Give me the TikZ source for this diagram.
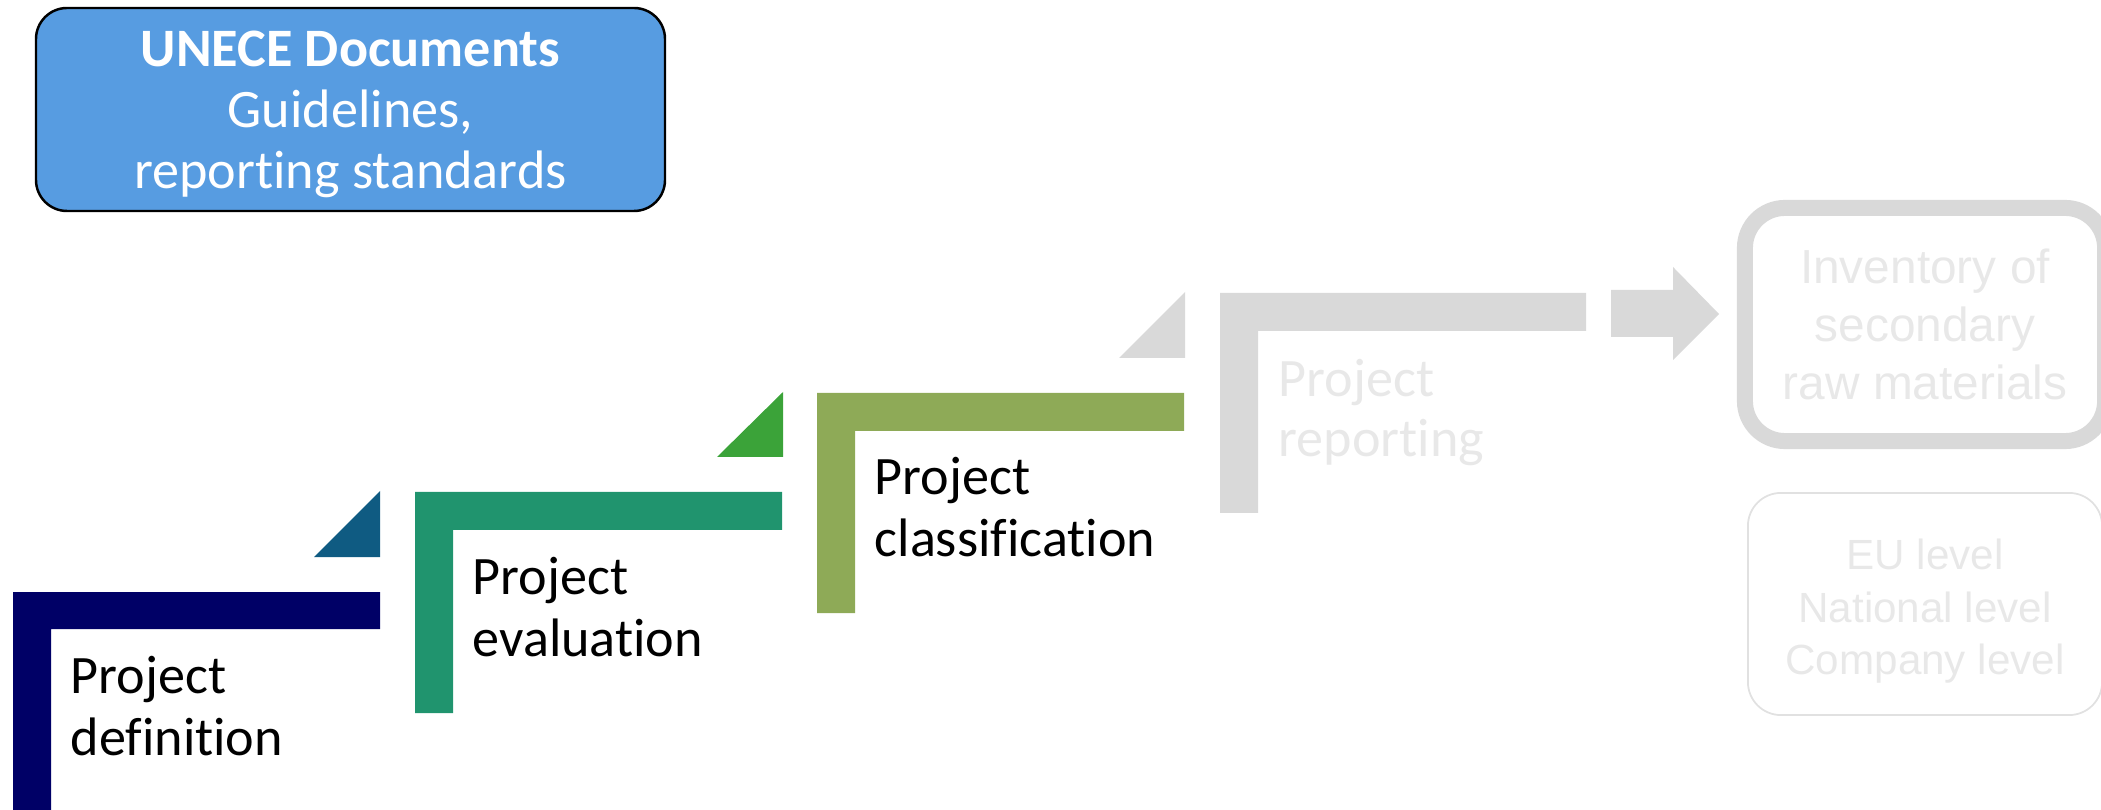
\documentclass[tikz,border=0pt]{standalone}
\usepackage{fontspec}
\setmainfont[Ligatures={NoCommon,NoDiscretionary,NoContextual}]{Carlito}
\newfontfamily\greyfont{Liberation Sans}
\definecolor{navy}{HTML}{000066}
\definecolor{petrol}{HTML}{0F5B82}
\definecolor{jade}{HTML}{20946E}
\definecolor{leaf}{HTML}{3BA339}
\definecolor{olive}{HTML}{8EAA57}
\definecolor{lightgrey}{HTML}{D9D9D9}
\definecolor{greytext}{HTML}{E8E8E8}
\definecolor{unece}{HTML}{579CE1}
\tikzset{
  steplabel/.style={anchor=north west, inner sep=0pt, align=left,
    font={\fontsize{15.4pt}{17.6pt}\selectfont}}}

\begin{document}
\begin{tikzpicture}[x=0.01cm,y=-0.01cm]
\useasboundingbox (0,0) rectangle (2101,810);
\tikzstyle{every node}+=[inner sep=0pt]
% documents box
\draw [fill=unece, draw=black, line width=0.7pt, rounded corners=0.31cm] (36,8) rectangle (665,211);
\node (unece) [align=center, text=white,
  font={\fontsize{15.4pt}{17.4pt}\selectfont}] at (350.5,114.5)
  {\textbf{UNECE Documents}\\Guidelines,\\reporting standards};
% steps
\fill [navy] (13,592) -- (380,592) -- (380,629) -- (51,629) -- (51,810) -- (13,810) -- cycle;
\fill [petrol] (314,557) -- (380,491) -- (380,557) -- cycle;
\node (definition) [steplabel] at (70,656) {Project\\definition};
\fill [jade] (415,492) -- (782,492) -- (782,530) -- (453,530) -- (453,713) -- (415,713) -- cycle;
\fill [leaf] (717,457) -- (783,392) -- (783,457) -- cycle;
\node (evaluation) [steplabel] at (472,557) {Project\\evaluation};
\fill [olive] (817,393) -- (1184,393) -- (1184,431) -- (855,431) -- (855,613) -- (817,613) -- cycle;
\fill [lightgrey] (1119,358) -- (1185,292) -- (1185,358) -- cycle;
\node (classification) [steplabel] at (874,457) {Project\\classification};
\fill [lightgrey] (1220,293) -- (1586,293) -- (1586,331) -- (1258,331) -- (1258,513) -- (1220,513) -- cycle;
\node (reporting) [steplabel, text=greytext, font={\fontsize{15.4pt}{16.8pt}\selectfont}] at (1278,359) {Project\\reporting};
% outcome
\fill [lightgrey] (1611,290) -- (1673,290) -- (1673,267) -- (1719,314) -- (1673,360) -- (1673,337) -- (1611,337) -- cycle;
\node (inventory) [draw=lightgrey, line width=0.16cm, rounded corners=0.40cm,
  minimum width=3.60cm, minimum height=2.33cm, align=center, text=greytext,
  font={\greyfont\fontsize{13.6pt}{16.5pt}\selectfont}] at (1925,324.5)
  {Inventory of\\secondary\\raw materials};
\node (levels) [draw=lightgrey!80, line width=0.5pt, rounded corners=0.33cm,
  minimum width=3.54cm, minimum height=2.22cm, align=center, text=greytext,
  font={\greyfont\fontsize{12pt}{14.9pt}\selectfont}] at (1925,604)
  {\rule{0pt}{0.45cm}EU level\\National level\\Company level};
\end{tikzpicture}
\end{document}
